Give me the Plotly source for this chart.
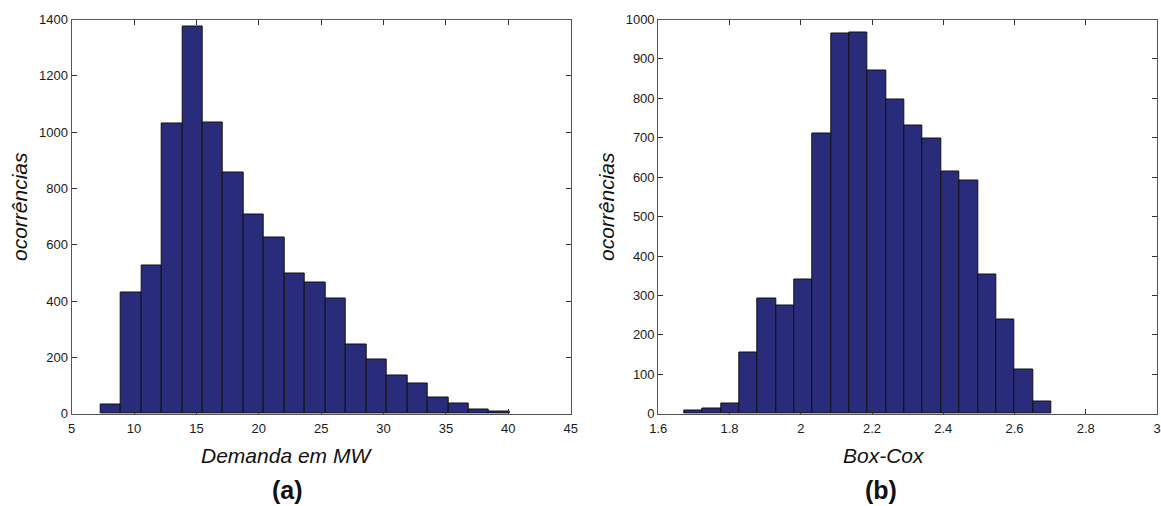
import plotly.graph_objects as go

# ---- data ----
# (a) Demanda em MW : 20-bin histogram
demanda_min = 7.3
demanda_max = 40.1
demanda_counts = [33, 430, 528, 1031, 1376, 1035, 858, 707, 626, 499,
                  466, 408, 245, 192, 135, 106, 57, 37, 16, 8]

# (b) Box-Cox : 20-bin histogram
boxcox_min = 1.673
boxcox_max = 2.703
boxcox_counts = [9, 13, 26, 156, 293, 275, 340, 710, 964, 968,
                 871, 796, 731, 697, 614, 591, 354, 240, 111, 32]

tick_a = [5, 10, 15, 20, 25, 30, 35, 40, 45]
tick_a_y = [0, 200, 400, 600, 800, 1000, 1200, 1400]
tick_b = [1.6, 1.8, 2.0, 2.2, 2.4, 2.6, 2.8, 3.0]
tick_b_text = ["1.6", "1.8", "2", "2.2", "2.4", "2.6", "2.8", "3"]
tick_b_y = [0, 100, 200, 300, 400, 500, 600, 700, 800, 900, 1000]


def centers(lo, hi, n):
    w = (hi - lo) / n
    return [lo + w * (i + 0.5) for i in range(n)], w


xa, wa = centers(demanda_min, demanda_max, len(demanda_counts))
xb, wb = centers(boxcox_min, boxcox_max, len(boxcox_counts))

BAR = "#292C7B"
FONT = "Liberation Sans, Arial, sans-serif"

fig = go.Figure()
fig.add_trace(go.Bar(x=xa, y=demanda_counts, width=wa,
                     marker=dict(color=BAR, line=dict(color="#111111", width=1)),
                     xaxis="x", yaxis="y", showlegend=False))
fig.add_trace(go.Bar(x=xb, y=boxcox_counts, width=wb,
                     marker=dict(color=BAR, line=dict(color="#111111", width=1)),
                     xaxis="x2", yaxis="y2", showlegend=False))

axis_common = dict(showgrid=False, zeroline=False, showline=True, automargin=False,
                   linecolor="#555555", linewidth=1.2, mirror="ticks",
                   ticks="inside", ticklen=5, tickcolor="#333333", tickwidth=1,
                   tickfont=dict(family=FONT, size=13, color="#1a1a1a"))

H = 506.0
ydom = [1 - 413.7 / H, 1 - 19.5 / H]

fig.update_layout(
    width=1161, height=506,
    margin=dict(l=0, r=0, t=0, b=0),
    paper_bgcolor="white", plot_bgcolor="white",
    bargap=0,
    xaxis=dict(domain=[71.7 / 1161, 570.7 / 1161], range=[5, 45],
               tickvals=tick_a, anchor="y", ticklabelstandoff=3, **axis_common),
    yaxis=dict(domain=ydom, range=[0, 1400], tickvals=tick_a_y,
               anchor="x", **axis_common),
    xaxis2=dict(domain=[658.3 / 1161, 1157 / 1161], range=[1.6, 3.0],
                tickvals=tick_b, ticktext=tick_b_text, anchor="y2",
                ticklabelstandoff=3, **axis_common),
    yaxis2=dict(domain=ydom, range=[0, 1000], tickvals=tick_b_y,
                anchor="x2", **axis_common),
)

def px_x(p):
    return p / 1161.0

def px_y(p):
    return 1 - p / H

ann = [
    dict(text="<i>ocorrências</i>", x=px_x(19), y=px_y(207), textangle=-90,
         font=dict(family=FONT, size=21, color="#111111")),
    dict(text="<i>ocorrências</i>", x=px_x(606), y=px_y(207), textangle=-90,
         font=dict(family=FONT, size=21, color="#111111")),
    dict(text="<i>Demanda em MW</i>", x=px_x(286), y=px_y(455),
         font=dict(family=FONT, size=21, color="#111111")),
    dict(text="<i>Box-Cox</i>", x=px_x(884), y=px_y(455),
         font=dict(family=FONT, size=21, color="#111111")),
    dict(text="<b>(a)</b>", x=px_x(287), y=px_y(490),
         font=dict(family=FONT, size=25, color="#111111")),
    dict(text="<b>(b)</b>", x=px_x(881), y=px_y(490),
         font=dict(family=FONT, size=25, color="#111111")),
]
for a in ann:
    a.update(xref="paper", yref="paper", showarrow=False,
             xanchor="center", yanchor="middle")
fig.update_layout(annotations=ann)

fig.write_html("out.html")
